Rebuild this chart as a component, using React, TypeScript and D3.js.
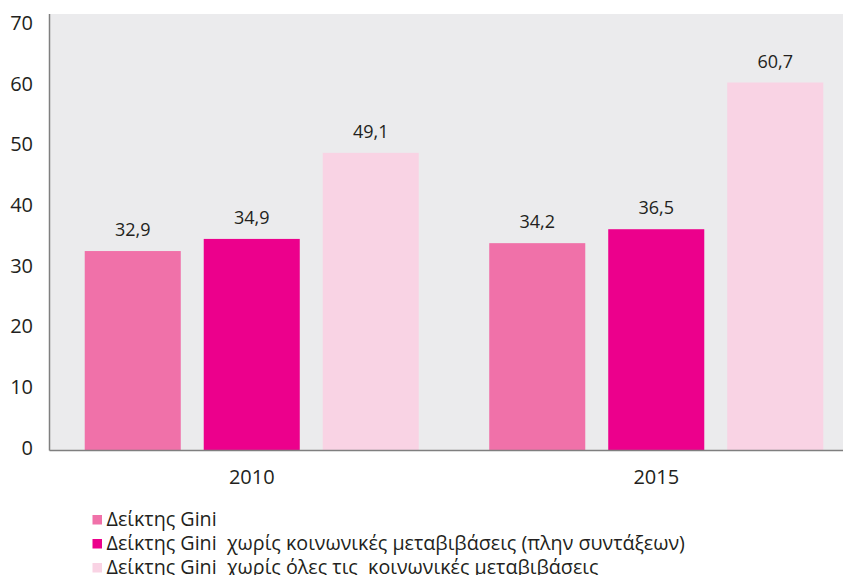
import React, { useRef, useEffect } from "react";
import * as d3 from "d3";

const years = ["2010", "2015"];
const seriesNames = [
  "Δείκτης Gini",
  "Δείκτης Gini  χωρίς κοινωνικές μεταβιβάσεις (πλην συντάξεων)",
  "Δείκτης Gini  χωρίς όλες τις  κοινωνικές μεταβιβάσεις",
];
const gini = [32.9, 34.2];
const giniNoTransfers = [34.9, 36.5];
const giniNoAllTransfers = [49.1, 60.7];
const yTicks = [0, 10, 20, 30, 40, 50, 60, 70];
const colors = ["#f071a9", "#ec008c", "#f9d3e4"];

const W = 843;
const H = 575;

const App: React.FC = () => {
  const svgRef = useRef<SVGSVGElement>(null);

  useEffect(() => {
    if (!svgRef.current) return;
    const svg = d3.select(svgRef.current);
    svg.selectAll("*").remove();

    const series = [gini, giniNoTransfers, giniNoAllTransfers];
    const left = 49.5;
    const top = 14;
    const base = 450.5;

    const x0 = d3.scaleBand<string>().domain(years).range([left, 858.5]);
    const x1 = d3
      .scaleBand<number>()
      .domain([0, 1, 2])
      .range([0, x0.bandwidth()])
      .paddingInner(0.193)
      .paddingOuter(0.296);
    const y = d3.scaleLinear().domain([0, 72]).range([base, top]);

    // plot background
    svg
      .append("rect")
      .attr("x", left)
      .attr("y", top)
      .attr("width", W - left)
      .attr("height", base - top)
      .attr("fill", "#ebebed");

    // bars + labels
    years.forEach((yr, i) => {
      const g = svg.append("g").attr("transform", `translate(${x0(yr)},0)`);
      series.forEach((vals, s) => {
        const v = vals[i];
        g.append("rect")
          .attr("x", x1(s)!)
          .attr("y", y(v))
          .attr("width", x1.bandwidth())
          .attr("height", base - y(v))
          .attr("fill", colors[s]);
        g.append("text")
          .attr("x", x1(s)! + x1.bandwidth() / 2)
          .attr("y", y(v) - 15)
          .attr("text-anchor", "middle")
          .style("font-size", "18px")
          .attr("fill", "#231f20")
          .text(v.toFixed(1).replace(".", ","));
      });
      svg
        .append("text")
        .attr("x", x0(yr)! + x0.bandwidth() / 2)
        .attr("y", 484)
        .attr("text-anchor", "middle")
        .style("font-size", "20px")
        .attr("fill", "#231f20")
        .text(yr);
    });

    // axes lines
    svg
      .append("line")
      .attr("x1", left)
      .attr("x2", left)
      .attr("y1", top)
      .attr("y2", base)
      .attr("stroke", "#7f7f7f")
      .attr("stroke-width", 1.5);
    svg
      .append("line")
      .attr("x1", left)
      .attr("x2", W)
      .attr("y1", base)
      .attr("y2", base)
      .attr("stroke", "#7f7f7f")
      .attr("stroke-width", 1.5);

    // y tick labels
    svg
      .selectAll(".ytick")
      .data(yTicks)
      .join("text")
      .attr("class", "ytick")
      .attr("x", 33)
      .attr("y", (d) => y(d) + 4)
      .attr("text-anchor", "end")
      .style("font-size", "20px")
      .attr("fill", "#231f20")
      .text((d) => d);

    // legend
    const lg = svg
      .selectAll(".lg")
      .data(seriesNames)
      .join("g")
      .attr("class", "lg")
      .attr("transform", (_, i) => `translate(92.5, ${515 + i * 24})`);
    lg.append("rect")
      .attr("width", 9.5)
      .attr("height", 9.5)
      .attr("fill", (_, i) => colors[i]);
    lg.append("text")
      .attr("x", 14)
      .attr("y", 11)
      .style("font-size", "19.7px")
      .style("white-space", "pre")
      .attr("fill", "#231f20")
      .text((d) => d);
  }, []);

  return (
    <div style={{ position: "absolute", left: 0, top: 0 }}>
      <svg
        ref={svgRef}
        width={W}
        height={H}
        style={{ display: "block", fontFamily: "'Open Sans', sans-serif" }}
      />
    </div>
  );
};

export default App;
